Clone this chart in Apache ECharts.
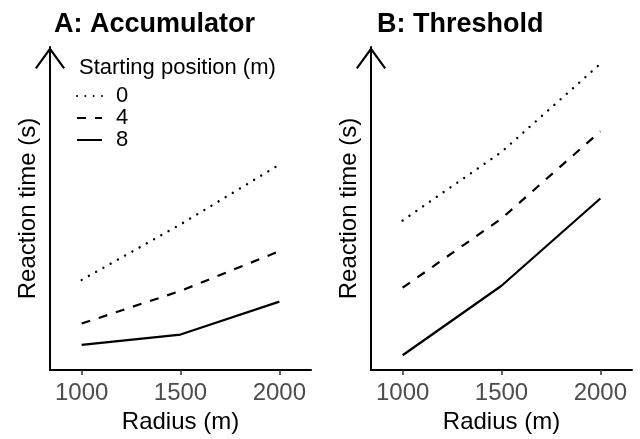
<!DOCTYPE html>
<html>
<head>
<meta charset="utf-8">
<script src="https://cdn.jsdelivr.net/npm/echarts@6/dist/echarts.min.js"></script>
<style>
  html, body { margin: 0; padding: 0; background: #fff; }
  #chart { width: 640px; height: 439px; }
</style>
</head>
<body>
<div id="chart"></div>
<script>
// Radius on the x axis, shared by both panels
const radius = [1000, 1500, 2000];
const xTicks = [1000, 1500, 2000];
const startLabels = ['0', '4', '8'];

// Panel A: accumulator model, reaction time (arbitrary units) per starting position
const accum0 = [2.79, 4.51, 6.36];
const accum4 = [1.44, 2.45, 3.68];
const accum8 = [0.78, 1.10, 2.12];

// Panel B: threshold model
const thresh0 = [4.63, 6.75, 9.48];
const thresh4 = [2.55, 4.69, 7.39];
const thresh8 = [0.46, 2.61, 5.31];

const FONT = '"Liberation Sans", Arial, Helvetica, sans-serif';
// dotted / dashed / solid, one style per starting position
const lineStyles = [
  { type: [0.01, 8.3], cap: 'round', width: 2.4 },
  { type: [9, 9], cap: 'butt', width: 2.2 },
  { type: 'solid', cap: 'butt', width: 2.2 }
];

// open chevron drawn as a thin filled V
const chevron = 'path://M0,20.6 L15,0 L30,20.6 L28.3,21.8 L15,3.6 L1.7,21.8 Z';

function pairs(ys) { return radius.map((r, i) => [r, ys[i]]); }

function xAxisFor(idx) {
  return {
    gridIndex: idx, type: 'value', min: 840, max: 2160,
    splitLine: { show: false },
    axisLine: { lineStyle: { color: '#000', width: 2 } },
    axisTick: { customValues: xTicks, length: 5, lineStyle: { color: '#333', width: 1.5 } },
    axisLabel: {
      customValues: xTicks, color: '#4D4D4D', fontSize: 24, fontFamily: FONT, margin: 11,
      formatter: v => String(v)
    },
    name: 'Radius (m)', nameLocation: 'middle', nameGap: 37,
    nameTextStyle: { color: '#000', fontSize: 24, fontFamily: FONT }
  };
}
function yAxisFor(idx) {
  return {
    gridIndex: idx, type: 'value', min: 0, max: 10,
    splitLine: { show: false }, axisTick: { show: false }, axisLabel: { show: false },
    axisLine: {
      show: true, lineStyle: { color: '#000', width: 2 },
      symbol: ['none', chevron], symbolSize: [30, 22], symbolOffset: [0, -11]
    },
    name: 'Reaction time (s)', nameLocation: 'middle', nameGap: 10,
    nameTextStyle: { color: '#000', fontSize: 24, fontFamily: FONT }
  };
}
function seriesFor(idx, sets) {
  return sets.map((ys, k) => ({
    name: startLabels[k], type: 'line', xAxisIndex: idx, yAxisIndex: idx,
    data: pairs(ys), symbol: 'none', animation: false,
    lineStyle: Object.assign({ color: '#000' }, lineStyles[k]),
    itemStyle: { color: 'rgba(0,0,0,0)' }
  }));
}

const chart = echarts.init(document.getElementById('chart'), null, { renderer: 'canvas' });
chart.setOption({
  backgroundColor: '#fff',
  animation: false,
  title: [
    { text: 'A: Accumulator', left: 49, top: 6, textStyle: { fontSize: 27, fontWeight: 'bold', color: '#000', fontFamily: FONT } },
    { text: 'B: Threshold', left: 372, top: 6, textStyle: { fontSize: 27, fontWeight: 'bold', color: '#000', fontFamily: FONT } },
    { text: 'Starting position (m)', left: 74, top: 52, textStyle: { fontSize: 22, fontWeight: 'normal', color: '#000', fontFamily: FONT } }
  ],
  legend: {
    data: startLabels, orient: 'vertical', left: 76, top: 85,
    itemWidth: 25, itemHeight: 14, itemGap: 0, padding: 0,
    itemStyle: { color: 'rgba(0,0,0,0)', opacity: 0 },
    textStyle: { fontSize: 22, lineHeight: 21.5, color: '#000', fontFamily: FONT, padding: [0, 0, 0, 9] },
    selectedMode: false
  },
  grid: [
    { left: 50, width: 261, top: 47, bottom: 66 },
    { left: 371, width: 261, top: 47, bottom: 66 }
  ],
  xAxis: [xAxisFor(0), xAxisFor(1)],
  yAxis: [yAxisFor(0), yAxisFor(1)],
  series: [
    ...seriesFor(0, [accum0, accum4, accum8]),
    ...seriesFor(1, [thresh0, thresh4, thresh8])
  ]
});
</script>
</body>
</html>
